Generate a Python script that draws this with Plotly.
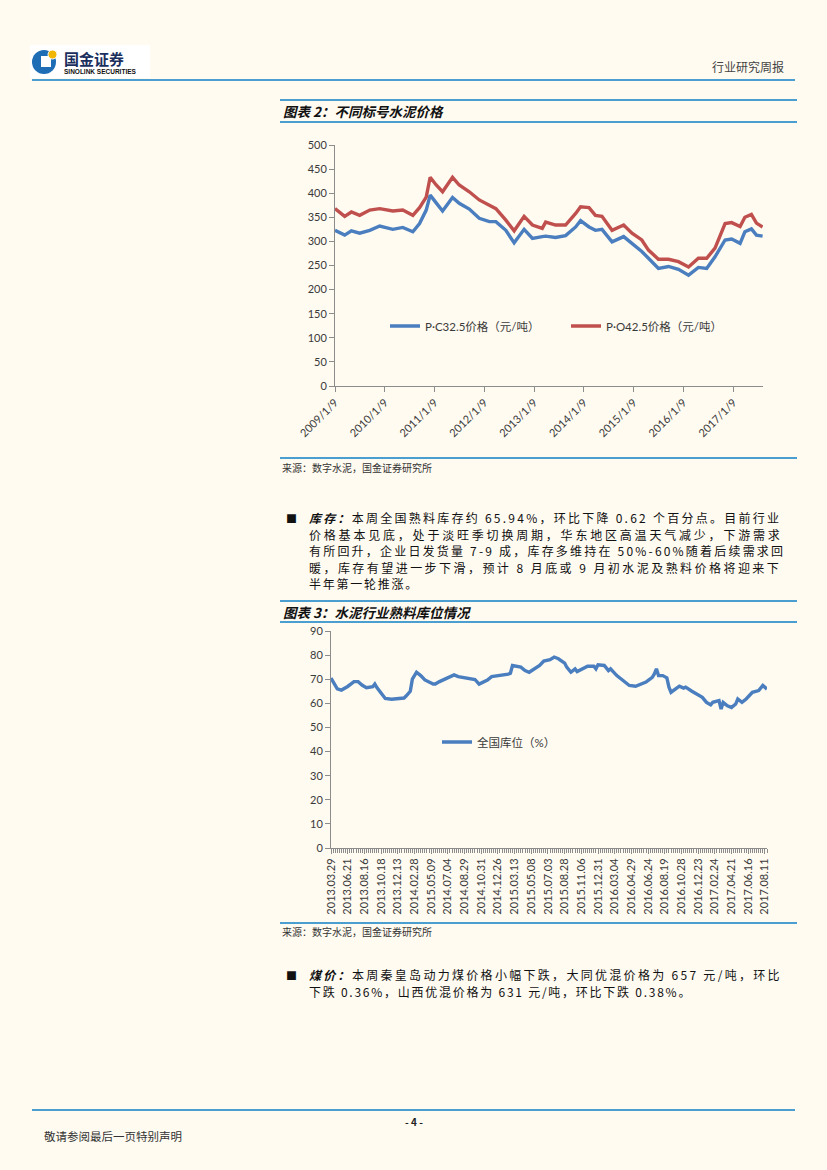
import plotly.graph_objects as go

W, H = 827, 1170
BG = "#FFFBF1"
RULE = "#4A9FD0"
BLUE = "#4A7EBF"
RED = "#C0504D"
AXC = "#8C8C8C"
TXT = "#3A3A3A"
CJK = "Noto Sans CJK SC"
LAT = "Lato, Noto Sans CJK SC"

# ---------------- chart 1 data: cement prices ----------------
dates1 = ["2009-01-09", "2009-03-21", "2009-05-09", "2009-07-09", "2009-09-21", "2009-12-03",
          "2010-03-09", "2010-05-21", "2010-08-03", "2010-09-21", "2010-11-09", "2010-12-08",
          "2011-01-21", "2011-03-09", "2011-05-21", "2011-07-09", "2011-09-21", "2011-12-03",
          "2012-02-15", "2012-04-03", "2012-06-15", "2012-08-15", "2012-10-27", "2012-12-27",
          "2013-03-09", "2013-04-03", "2013-06-15", "2013-08-27", "2013-11-09", "2013-12-15",
          "2014-02-15", "2014-04-03", "2014-05-21", "2014-08-03", "2014-10-27", "2014-12-27",
          "2015-03-09", "2015-04-27", "2015-07-09", "2015-09-21", "2015-12-03", "2016-02-15",
          "2016-04-27", "2016-06-27", "2016-08-27", "2016-11-09", "2016-12-27", "2017-02-27",
          "2017-04-03", "2017-05-21", "2017-06-27", "2017-08-11"]
pc325 = [323, 313, 322, 317, 323, 332,
         325, 329, 320, 337, 365, 396,
         380, 363, 391, 379, 367, 348,
         341, 341, 323, 297, 325, 306,
         310, 311, 308, 312, 330, 343,
         330, 323, 325, 299, 310, 296,
         279, 265, 244, 248, 242, 230,
         246, 244, 268, 303, 305, 296,
         320, 326, 313, 311]
po425 = [368, 352, 361, 354, 365, 368,
         363, 365, 354, 370, 392, 433,
         417, 403, 433, 417, 403, 386,
         375, 368, 344, 322, 352, 334,
         327, 340, 334, 334, 358, 372,
         370, 354, 352, 323, 334, 317,
         303, 282, 263, 263, 258, 247,
         265, 265, 286, 337, 339, 331,
         350, 356, 338, 330]
year_ticks = ["2009-01-09", "2010-01-09", "2011-01-09", "2012-01-09", "2013-01-09",
              "2014-01-09", "2015-01-09", "2016-01-09", "2017-01-09"]
year_labels = ["2009/1/9", "2010/1/9", "2011/1/9", "2012/1/9", "2013/1/9",
               "2014/1/9", "2015/1/9", "2016/1/9", "2017/1/9"]

# ---------------- chart 2 data: clinker inventory ----------------
week_idx = [0, 3, 5, 8, 11, 13, 15, 17, 20, 21, 22, 24, 25, 26, 29, 33, 35, 36, 38, 39,
            41, 43, 45, 49, 50, 52, 54, 57, 59, 61, 63, 66, 69, 71, 74, 75, 77, 80, 85, 86,
            87, 91, 93, 95, 97, 100, 102, 105, 107, 109, 112, 113, 115, 117, 118, 121, 123, 126, 127, 128,
            131, 133, 134, 137, 141, 143, 146, 149, 151, 153, 154, 155, 156, 157, 159, 161, 162, 163, 166, 167,
            169, 170, 173, 175, 178, 180, 182, 183, 186, 187, 188, 190, 192, 194, 195, 197, 199, 202, 204, 205,
            207, 209]
stock = [70.5, 66.0, 65.5, 67.0, 69.0, 69.0, 67.5, 66.5, 66.9, 68.0, 66.5, 64.5, 63.5, 62.0, 61.7, 62.2, 62.2, 63.0, 65.0, 70.0,
         72.9, 71.5, 69.7, 68.0, 68.0, 69.0, 69.7, 71.1, 71.8, 71.1, 70.8, 70.1, 69.9, 68.0, 69.0, 69.7, 71.1, 71.4, 72.1, 72.5,
         75.7, 75.0, 73.6, 72.9, 73.9, 75.7, 77.5, 78.1, 79.2, 78.5, 76.7, 75.0, 72.9, 74.3, 73.2, 74.3, 75.4, 75.4, 74.3, 76.0,
         75.7, 73.6, 74.3, 71.5, 69.0, 67.4, 67.1, 68.0, 68.8, 70.1, 70.8, 72.2, 74.3, 71.5, 71.5, 70.6, 66.7, 64.6, 66.7, 67.1,
         66.3, 66.7, 65.0, 63.9, 62.5, 60.4, 59.4, 60.4, 61.1, 57.6, 60.4, 59.0, 58.3, 59.7, 61.8, 60.4, 61.8, 64.6, 65.3, 65.3,
         67.4, 65.9]
week_labels = ["2013.03.29", "2013.06.21", "2013.08.16", "2013.10.18", "2013.12.13", "2014.02.28",
               "2015.05.09", "2014.07.04", "2014.08.29", "2014.10.31", "2014.12.26", "2015.03.13",
               "2015.05.08", "2015.07.03", "2015.08.28", "2015.11.06", "2015.12.31", "2016.03.04",
               "2016.04.29", "2016.06.24", "2016.08.19", "2016.10.28", "2016.12.23", "2017.02.24",
               "2017.04.21", "2017.06.16", "2017.08.11"]
label_step = 8
week_tickvals = [i * label_step for i in range(len(week_labels))]


def fx(x):
    return x / W


def fy(y):
    return 1 - y / H


fig = go.Figure()
fig.add_trace(go.Scatter(x=dates1, y=pc325, mode="lines", name="P·C32.5价格（元/吨）", showlegend=True,
                         line=dict(color=BLUE, width=3.4), xaxis="x", yaxis="y", legend="legend"))
fig.add_trace(go.Scatter(x=dates1, y=po425, mode="lines", name="P·O42.5价格（元/吨）", showlegend=True,
                         line=dict(color=RED, width=3.4), xaxis="x", yaxis="y", legend="legend2"))
fig.add_trace(go.Scatter(x=week_idx, y=stock, mode="lines", name="全国库位（%）", showlegend=True,
                         line=dict(color=BLUE, width=3.4), xaxis="x2", yaxis="y2", legend="legend3"))

axis_common = dict(showline=True, linecolor=AXC, linewidth=1, ticks="outside", ticklen=5,
                   tickcolor=AXC, showgrid=False, zeroline=False, automargin=False,
                   tickfont=dict(family=LAT, size=11, color=TXT))

leg_common = dict(orientation="h", bgcolor="rgba(0,0,0,0)", xanchor="left", yanchor="middle",
                  font=dict(family=LAT, size=11.5, color=TXT), borderwidth=0, visible=True)

fig.update_layout(
    width=W, height=H, autosize=False, showlegend=True,
    margin=dict(l=0, r=0, t=0, b=0, autoexpand=False),
    paper_bgcolor=BG, plot_bgcolor="rgba(0,0,0,0)",
    xaxis=dict(type="date", domain=[fx(335), fx(763)], range=["2009-01-09", "2017-08-14"],
               tickmode="array", tickvals=year_ticks, ticktext=year_labels, tickangle=-45,
               anchor="y", **axis_common),
    yaxis=dict(domain=[fy(386), fy(145)], range=[0, 500], dtick=50, anchor="x", **axis_common),
    xaxis2=dict(domain=[fx(331), fx(767)], range=[0, 209], tickmode="array",
                tickvals=week_tickvals, ticktext=week_labels, tickangle=-90, anchor="y2",
                minor=dict(tickmode="linear", tick0=0, dtick=1, ticks="outside", ticklen=4,
                           tickcolor=AXC, showgrid=False),
                **axis_common),
    yaxis2=dict(domain=[fy(848), fy(631)], range=[0, 90], dtick=10, anchor="x2", **axis_common),
    legend=dict(x=fx(385), y=fy(326), **leg_common),
    legend2=dict(x=fx(566), y=fy(326), **leg_common),
    legend3=dict(x=fx(437), y=fy(742), **leg_common),
)

shapes = []


def hline(y, x0, x1, w=2):
    shapes.append(dict(type="line", xref="paper", yref="paper", x0=fx(x0), x1=fx(x1),
                       y0=fy(y), y1=fy(y), line=dict(color=RULE, width=w)))


hline(80, 32, 795, 2.2)
hline(100, 280, 797)
hline(122, 280, 797)
hline(458, 280, 797)
hline(601, 280, 797)
hline(622, 280, 797)
hline(923, 280, 797)
hline(1110, 32, 795, 2.2)

# logo
shapes.append(dict(type="rect", xref="paper", yref="paper", x0=fx(30), x1=fx(150), y0=fy(78), y1=fy(45),
                   fillcolor="white", line=dict(width=0)))
shapes.append(dict(type="circle", xref="paper", yref="paper", x0=fx(32), x1=fx(56), y0=fy(74), y1=fy(50),
                   fillcolor="#1E6DB5", line=dict(width=0)))
shapes.append(dict(type="rect", xref="paper", yref="paper", x0=fx(41), x1=fx(51), y0=fy(67), y1=fy(56),
                   fillcolor="white", line=dict(width=0)))
shapes.append(dict(type="circle", xref="paper", yref="paper", x0=fx(48), x1=fx(57), y0=fy(59), y1=fy(50),
                   fillcolor="#F2B705", line=dict(color="white", width=1)))
fig.update_layout(shapes=shapes)

anns = []


def text(x, y, s, size=12, color="#222", family=CJK, xanchor="left", align="left"):
    anns.append(dict(x=fx(x), y=fy(y), xref="paper", yref="paper", text=s, showarrow=False,
                     xanchor=xanchor, yanchor="middle", align=align,
                     font=dict(family=family, size=size, color=color)))


text(62, 58, "<b>国金证券</b>", 15, "#1B2F5E")
text(62, 71, "<b>SINOLINK SECURITIES</b>", 6.5, "#111", "Liberation Sans")
text(786, 66, "行业研究周报", 12, "#444", xanchor="right")

text(281, 111, "<b><i>图表 2：不同标号水泥价格</i></b>", 13.5, "#111")
text(280, 467, "来源：数字水泥，国金证券研究所", 10, "#333")
text(281, 611.5, "<b><i>图表 3：水泥行业熟料库位情况</i></b>", 13.5, "#111")
text(280, 932, "来源：数字水泥，国金证券研究所", 10, "#333")

# paragraphs: base size sets the line pitch (1.3 x base); each line gets its own
# glyph size and letter spacing to imitate the justified setting of the original
BASE = 12.7
GLYPH = 12


def line(s, ls):
    return '<span style="font-size:%spx;letter-spacing:%spx">%s</span>' % (GLYPH, ls, s)


para1 = [("<b><i>库存：</i></b>本周全国熟料库存约 65.94%，环比下降 0.62 个百分点。目前行业", 2.25),
         ("价格基本见底，处于淡旺季切换周期，华东地区高温天气减少，下游需求", 2.8),
         ("有所回升，企业日发货量 7-9 成，库存多维持在 50%-60%随着后续需求回", 2.2),
         ("暖，库存有望进一步下滑，预计 8 月底或 9 月初水泥及熟料价格将迎来下", 2.45),
         ("半年第一轮推涨。", 1.75)]
para2 = [("<b><i>煤价：</i></b>本周秦皇岛动力煤价格小幅下跌，大同优混价格为 657 元/吨，环比", 2.3),
         ("下跌 0.36%，山西优混价格为 631 元/吨，环比下跌 0.38%。", 1.75)]

text(284, 518, "■", 11, "#111")
text(307, 550.5, "<br>".join(line(s, ls) for s, ls in para1), BASE, "#111")
text(284, 975, "■", 11, "#111")
text(307, 983.2, "<br>".join(line(s, ls) for s, ls in para2), BASE, "#111")

text(414, 1121, "<b>- 4 -</b>", 10, "#222", xanchor="center")
text(42, 1136, "敬请参阅最后一页特别声明", 11.5, "#333")

fig.update_layout(annotations=anns)

fig.write_html("out.html", config={"displayModeBar": False},
               post_script="document.body.style.margin='0';document.body.style.background='%s';" % BG)
